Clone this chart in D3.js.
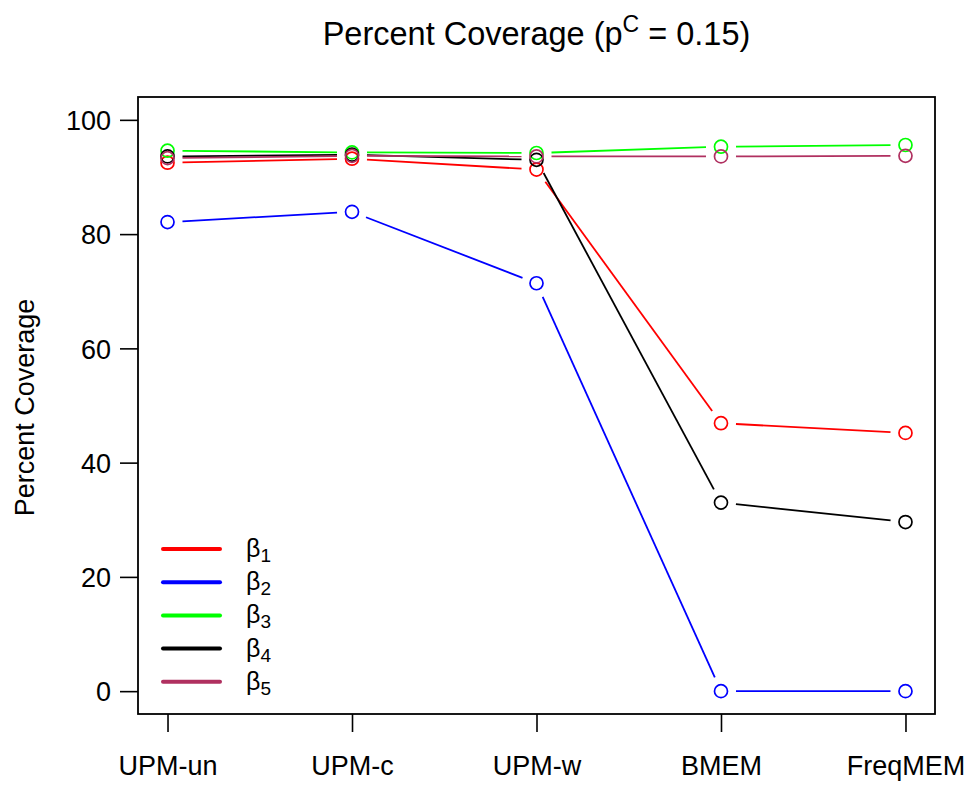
<!DOCTYPE html>
<html>
<head>
<meta charset="utf-8">
<script src="https://cdn.jsdelivr.net/npm/d3@7"></script>
<style>
  html, body { margin: 0; padding: 0; background: #fff; }
  svg text { font-family: "Liberation Sans", Arial, Helvetica, sans-serif; fill: #000; }
</style>
</head>
<body>
<svg id="chart" width="974" height="787"></svg>
<script>
// Methods compared on the x axis
const methods = ["UPM-un", "UPM-c", "UPM-w", "BMEM", "FreqMEM"];

// Percent coverage for each coefficient
const beta1 = [92.5, 93.2, 91.3, 46.9, 45.2];
const beta2 = [82.1, 83.9, 71.4, 0.0, 0.0];
const beta3 = [94.6, 94.3, 94.2, 95.3, 95.6];
const beta4 = [93.6, 93.9, 93.0, 33.0, 29.6];
const beta5 = [93.3, 93.7, 93.6, 93.6, 93.7];

const seriesNames = ["1", "2", "3", "4", "5"];
const seriesColors = ["#ff0000", "#0000ff", "#00ff00", "#000000", "#b03060"];
const yTicks = [0, 20, 40, 60, 80, 100];

const series = [beta1, beta2, beta3, beta4, beta5].map((vals, i) => ({
  name: seriesNames[i], color: seriesColors[i], values: vals
}));

const svg = d3.select("#chart");
const box = { left: 138, right: 935, top: 97, bottom: 714 };

// R-style axes: 4% padding on each side of the data range
const x = d3.scaleLinear().domain([0.84, 5.16]).range([box.left, box.right]);
const y = d3.scaleLinear().domain([-4, 104]).range([box.bottom, box.top]);

// Title with superscript
const title = svg.append("text")
  .attr("x", (box.left + box.right) / 2)
  .attr("y", 45)
  .attr("text-anchor", "middle")
  .style("font-size", "32.5px");
title.append("tspan").text("Percent Coverage (p");
title.append("tspan").attr("dy", -13).style("font-size", "23px").text("C");
title.append("tspan").attr("dy", 13).text(" = 0.15)");

// Y axis label
svg.append("text")
  .attr("transform", `translate(34,${(box.top + box.bottom) / 2 + 2}) rotate(-90)`)
  .attr("text-anchor", "middle")
  .style("font-size", "27px")
  .text("Percent Coverage");

// Left axis
const yAxis = d3.axisLeft(y).tickValues(yTicks).tickSize(18).tickPadding(9);
const gy = svg.append("g").attr("transform", `translate(${box.left},0)`).call(yAxis);
gy.select(".domain").remove();
gy.selectAll(".tick line").attr("stroke", "#000").attr("stroke-width", 1.6);
gy.selectAll(".tick text").style("font-size", "27px").attr("dy", "0.36em")
  .style("font-family", "'Liberation Sans', Arial, sans-serif");

// Bottom axis
const xAxis = d3.axisBottom(x).tickValues(d3.range(1, methods.length + 1))
  .tickFormat(d => methods[d - 1]).tickSize(18).tickPadding(24);
const gx = svg.append("g").attr("transform", `translate(0,${box.bottom})`).call(xAxis);
gx.select(".domain").remove();
gx.selectAll(".tick line").attr("stroke", "#000").attr("stroke-width", 1.6);
gx.selectAll(".tick text").style("font-size", "27px")
  .style("font-family", "'Liberation Sans', Arial, sans-serif");

// Plot frame
svg.append("rect")
  .attr("x", box.left).attr("y", box.top)
  .attr("width", box.right - box.left).attr("height", box.bottom - box.top)
  .attr("fill", "none").attr("stroke", "#000").attr("stroke-width", 1.8);

// Lines with gaps around the points (type = "b")
const gap = 15;
const plot = svg.append("g");
series.forEach(s => {
  const pts = s.values.map((v, i) => [x(i + 1), y(v)]);
  const g = plot.append("g");
  for (let i = 0; i < pts.length - 1; i++) {
    const [x0, y0] = pts[i], [x1, y1] = pts[i + 1];
    const len = Math.hypot(x1 - x0, y1 - y0);
    if (len <= 2 * gap) continue;
    const ux = (x1 - x0) / len, uy = (y1 - y0) / len;
    g.append("line")
      .attr("x1", x0 + ux * gap).attr("y1", y0 + uy * gap)
      .attr("x2", x1 - ux * gap).attr("y2", y1 - uy * gap)
      .attr("stroke", s.color).attr("stroke-width", 1.8);
  }
  g.selectAll("circle").data(pts).join("circle")
    .attr("cx", d => d[0]).attr("cy", d => d[1]).attr("r", 6.5)
    .attr("fill", "none").attr("stroke", s.color).attr("stroke-width", 1.7);
});

// Legend
const legend = svg.append("g");
series.forEach((s, i) => {
  const ly = 549 + i * 33.2;
  legend.append("line")
    .attr("x1", 163).attr("x2", 220).attr("y1", ly).attr("y2", ly)
    .attr("stroke", s.color).attr("stroke-width", 4).attr("stroke-linecap", "round");
  const t = legend.append("text").attr("x", 246).attr("y", ly + 8).style("font-size", "25px");
  t.append("tspan").text("β");
  t.append("tspan").attr("dy", 5).style("font-size", "19px").text(s.name);
});
</script>
</body>
</html>
